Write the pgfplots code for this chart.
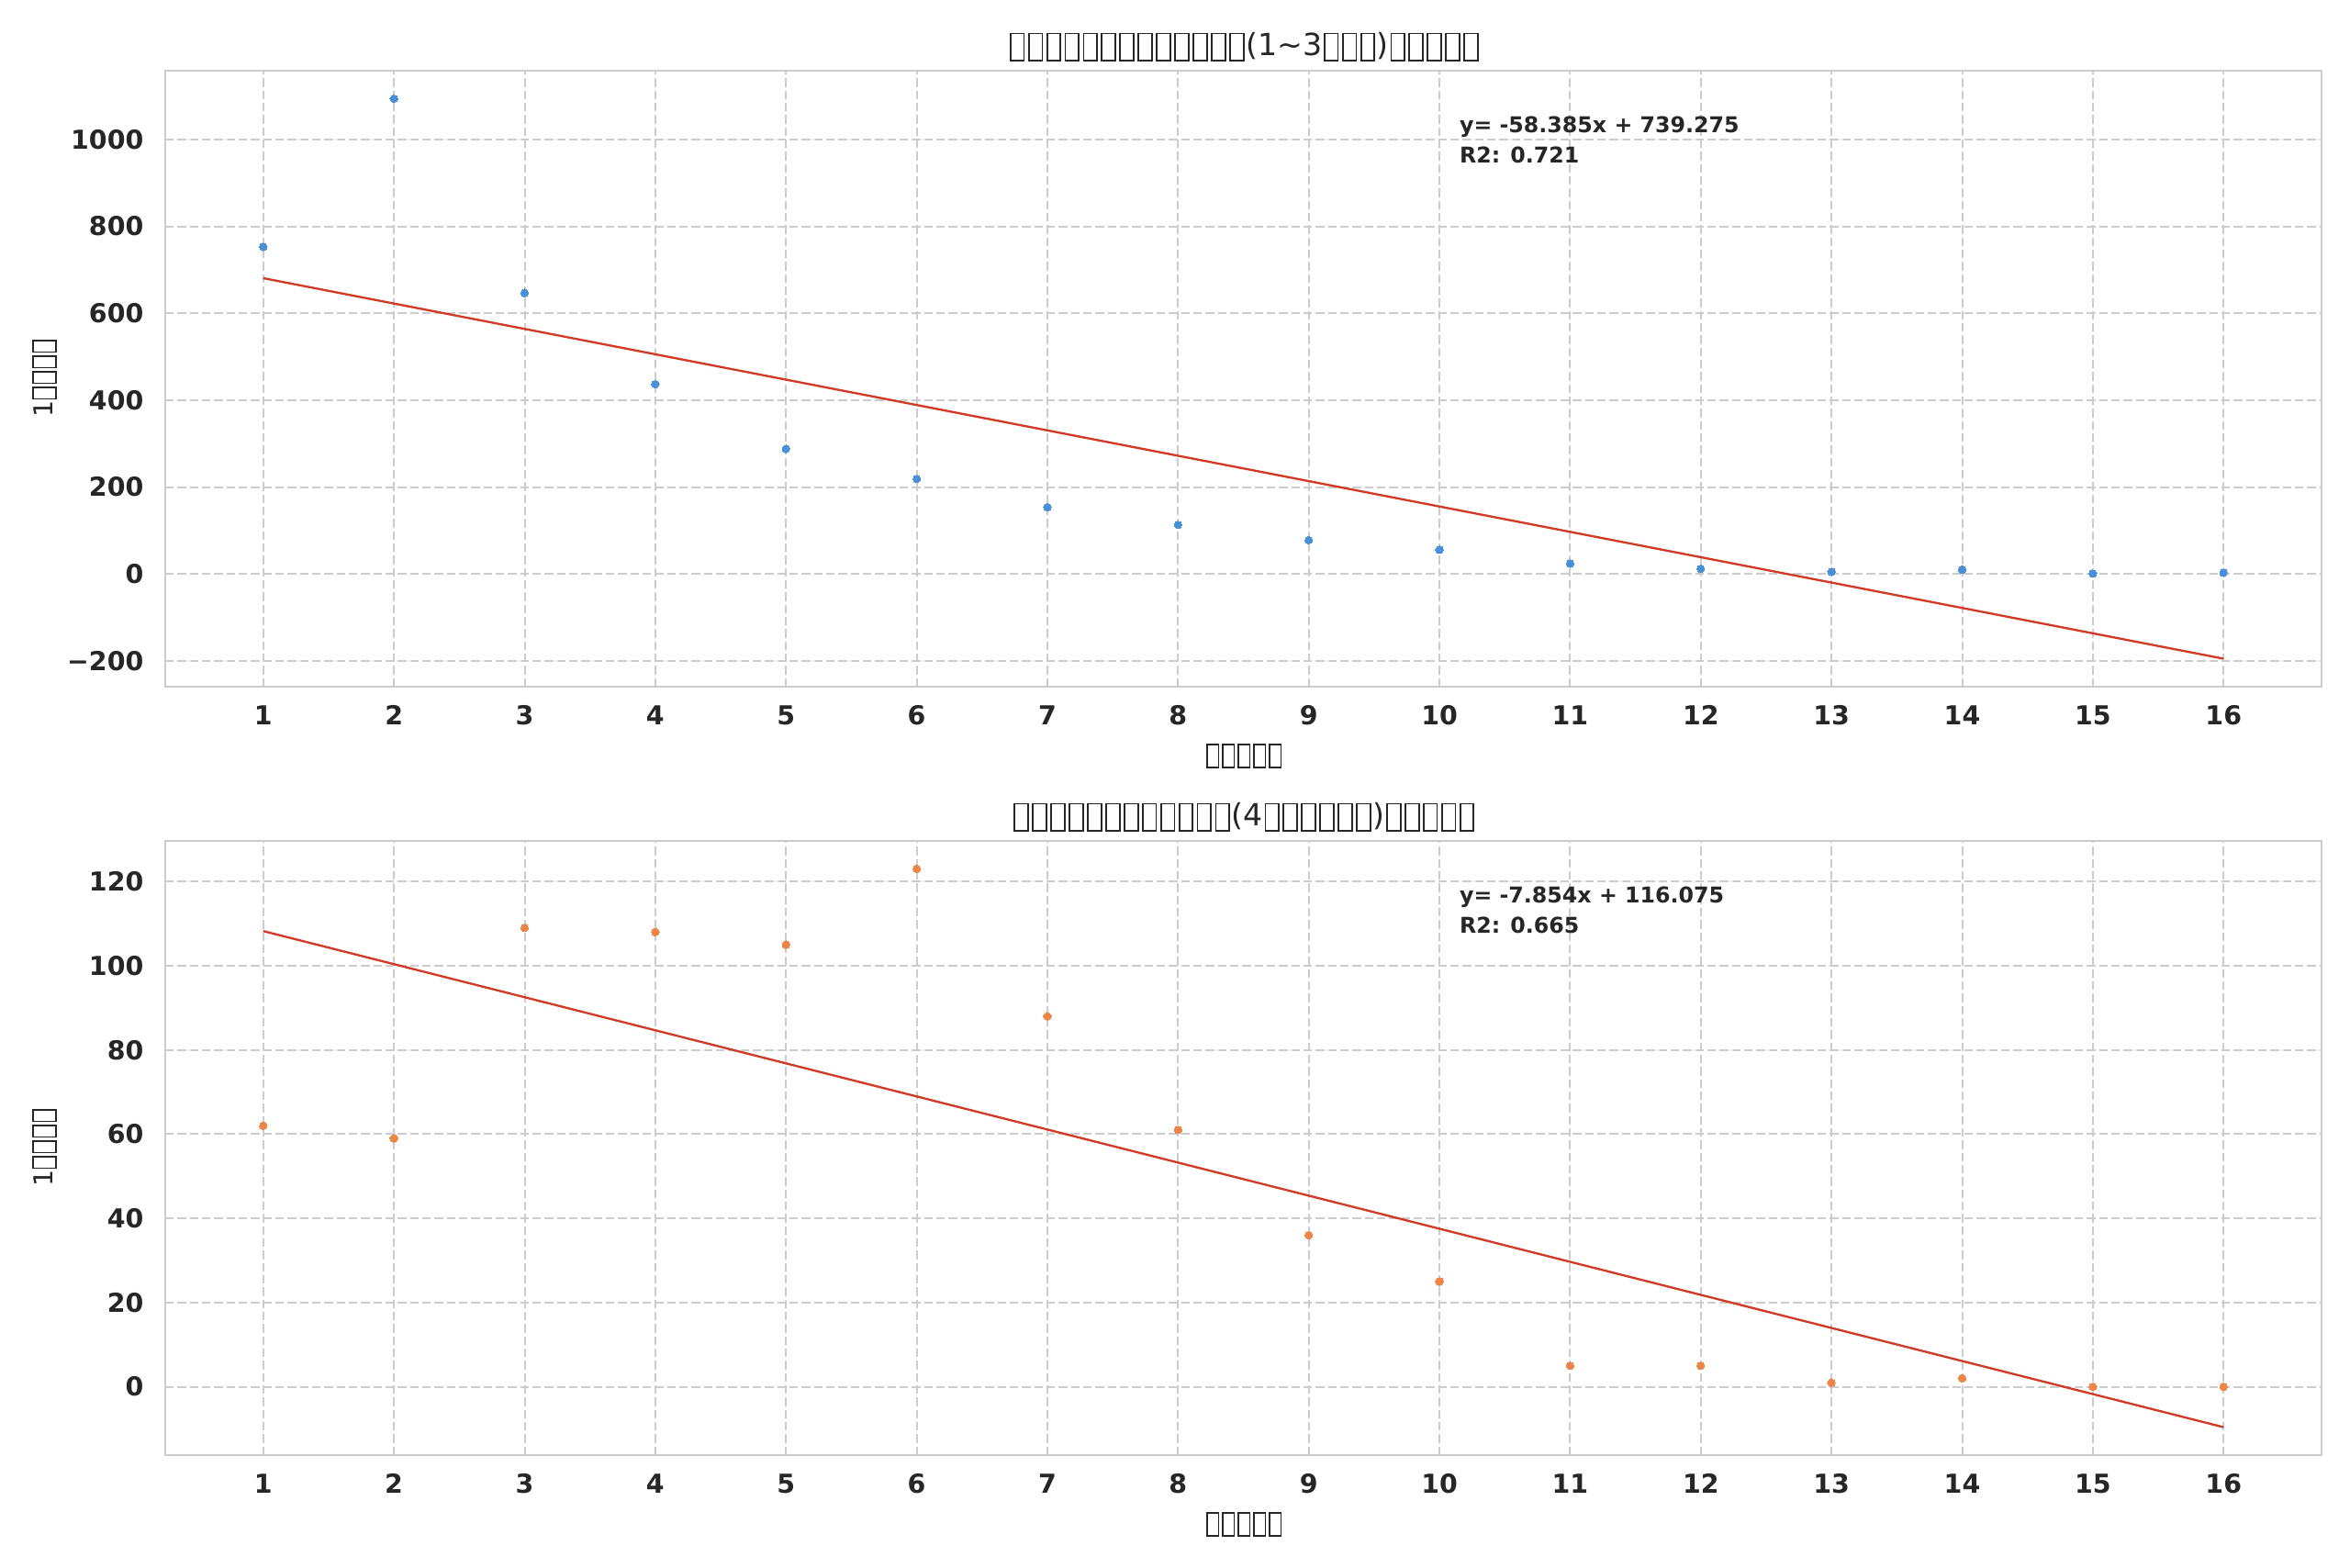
\documentclass[border=0pt]{standalone}
\usepackage{fontspec}
\setmainfont{DejaVu Sans}
\usepackage{pgfplots}
\pgfplotsset{compat=1.18}
\definecolor{txt}{HTML}{262626}
\definecolor{gridc}{HTML}{CCCCCC}
\definecolor{c1}{HTML}{4A8FD9}
\definecolor{c2}{HTML}{EE8446}
\definecolor{reg}{HTML}{D03A27}
\newcommand\T{{\setlength{\fboxsep}{0pt}\setlength{\fboxrule}{0.055em}\hspace{0.05em}\fbox{\rule[-0.12em]{0pt}{0.83em}\hspace{0.39em}}\hspace{0.05em}}}
\pgfplotsset{mystyle/.style={
  scale only axis, width=704.7pt, anchor=south west,
  xmin=0.25, xmax=16.75, xtick={1,...,16},
  grid=major,
  major grid style={gridc, line width=0.6pt, dash pattern=on 2.8pt off 1.2pt},
  axis line style={gridc, line width=0.8pt},
  major tick length=0pt, tick style={draw=none},
  tick label style={font=\bfseries\fontsize{8.53}{10}\selectfont, text=txt, inner sep=0pt},
  xticklabel style={anchor=north, yshift=-6pt},
  yticklabel style={anchor=east, xshift=-6.9pt},
  /pgf/number format/assume math mode=true,
}}
\pgfplotstableread{
x y
1 753
2 1094
3 647
4 437
5 288
6 219
7 154
8 113
9 78
10 56
11 24
12 12
13 5
14 10
15 1
16 3
}\dataA
\pgfplotstableread{
x y
1 62
2 59
3 109
4 108
5 105
6 123
7 88
8 61
9 36
10 25
11 5
12 5
13 1
14 2
15 0
16 0
}\dataB
\begin{document}
\begin{tikzpicture}
\useasboundingbox (0,0) rectangle (768pt,512.1pt);
\begin{axis}[mystyle, at={(54pt,287.7pt)}, height=201.3pt,
  ymin=-259.33, ymax=1158.44, ytick={-200,0,200,400,600,800,1000},
  yticklabels={−200,0,200,400,600,800,1000}]
\addplot[only marks, color=c1, mark=*, mark size=1.25pt, mark options={draw=c1, fill=c1, line width=0pt}] table[x=x,y=y] {\dataA};
\addplot[reg, line width=0.7pt] coordinates {(1,680.89) (16,-194.885)};
\node[anchor=base west, inner sep=0pt, font=\bfseries\fontsize{7.11}{8.5}\selectfont, text=txt] at (rel axis cs:0.6,0.8987) {y= -58.385x + 739.275};
\node[anchor=base west, inner sep=0pt, font=\bfseries\fontsize{7.11}{8.5}\selectfont, text=txt] at (rel axis cs:0.6,0.8495) {R2: 0.721};
\end{axis}
\begin{axis}[mystyle, at={(54pt,36.6pt)}, height=200.7pt,
  ymin=-16.22, ymax=129.63, ytick={0,20,40,60,80,100,120}]
\addplot[only marks, color=c2, mark=*, mark size=1.25pt, mark options={draw=c2, fill=c2, line width=0pt}] table[x=x,y=y] {\dataB};
\addplot[reg, line width=0.7pt] coordinates {(1,108.221) (16,-9.589)};
\node[anchor=base west, inner sep=0pt, font=\bfseries\fontsize{7.11}{8.5}\selectfont, text=txt] at (rel axis cs:0.6,0.8987) {y= -7.854x + 116.075};
\node[anchor=base west, inner sep=0pt, font=\bfseries\fontsize{7.11}{8.5}\selectfont, text=txt] at (rel axis cs:0.6,0.8495) {R2: 0.665};
\end{axis}
% titles
\node[anchor=base, inner sep=0pt, font=\fontsize{9.96}{12}\selectfont, text=txt] at (406.35pt,493.8pt)
  {\T\T\T\T\T\T\T\T\T\T\T\T\T(1\textasciitilde3\T\T\T)\T\T\T\T\T};
\node[anchor=base, inner sep=0pt, font=\fontsize{9.96}{12}\selectfont, text=txt] at (406.35pt,242.1pt)
  {\T\T\T\T\T\T\T\T\T\T\T\T(4\T\T\T\T\T\T)\T\T\T\T\T};
% x labels
\node[anchor=base, inner sep=0pt, font=\fontsize{8.53}{10}\selectfont, text=txt] at (406.35pt,262.5pt) {\T\T\T\T\T};
\node[anchor=base, inner sep=0pt, font=\fontsize{8.53}{10}\selectfont, text=txt] at (406.35pt,11.4pt) {\T\T\T\T\T};
% y labels
\node[anchor=base, rotate=90, inner sep=0pt, font=\fontsize{8.53}{10}\selectfont, text=txt] at (17.1pt,388.35pt) {1\T\T\T\T};
\node[anchor=base, rotate=90, inner sep=0pt, font=\fontsize{8.53}{10}\selectfont, text=txt] at (17.1pt,136.95pt) {1\T\T\T\T};
\end{tikzpicture}
\end{document}
